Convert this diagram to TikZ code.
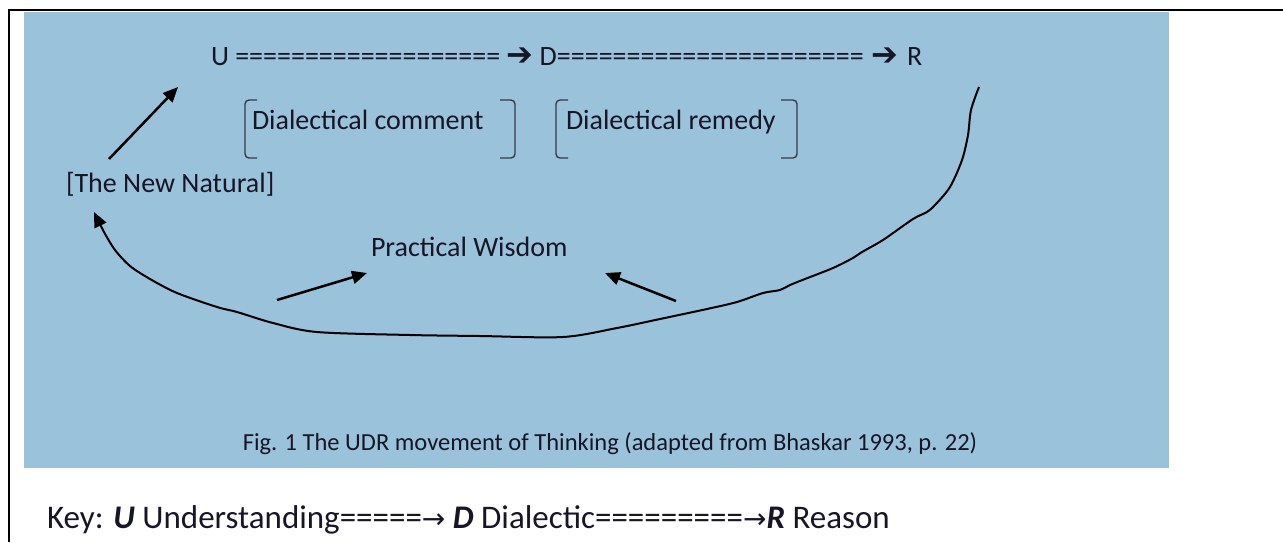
\documentclass[tikz,border=0pt]{standalone}
\usepackage{fontspec}
\setmainfont{Carlito}
\newfontfamily\djv{DejaVu Sans}
\usetikzlibrary{arrows.meta}
\definecolor{bgblue}{RGB}{155,194,219}
\definecolor{ink}{RGB}{22,22,38}
\newcommand{\bigarr}{{\djv\fontsize{32}{30}\selectfont ➔}}
\newcommand{\keyarr}{{\djv\fontsize{28}{30}\selectfont →}}
\begin{document}
\begin{tikzpicture}[x=1pt,y=-1pt,
  lbl/.style={inner sep=0pt, outer sep=0pt, font=\fontsize{28}{34}\selectfont, text=ink},
  brk/.style={draw=ink!85, line width=1.4pt, rounded corners=4pt},
  arr/.style={draw=black, line width=2.5pt, -{Triangle[length=15pt,width=13pt]}},
  hand/.style={draw=black, line width=2pt, -{Triangle[length=15pt,width=13pt]}},
]
\useasboundingbox (0,0) rectangle (1283,542);
\fill[bgblue] (24,12) rectangle (1169,468);
\draw[line width=2pt] (8,10) -- (1283,10);
\draw[line width=2pt] (9,9) -- (9,542);

% top line
\node[lbl, anchor=base west] (top) at (211,65)
  {U =================== \bigarr{} D====================== \hspace{1pt}\bigarr{} \hspace{3pt}R};

% bracketed labels
\node[lbl, anchor=base west] (comment) at (252,129) {Dialectical comment};
\node[lbl, anchor=base west] (remedy) at (566,129) {Dialectical remedy};
\draw[brk] (257,100) -- (245,100) -- (245,158) -- (257,158);
\draw[brk] (500,100) -- (515,100) -- (515,158) -- (500,158);
\draw[brk] (568,100) -- (556,100) -- (556,158) -- (568,158);
\draw[brk] (781,100) -- (797,100) -- (797,158) -- (781,158);

\node[lbl, anchor=base west] (natural) at (66,192) {[The New Natural]};
\node[lbl, anchor=base west] (wisdom) at (371,256) {Practical Wisdom};

% arrows
\coordinate (a1s) at (109,159);
\coordinate (a1e) at (178,87);
\draw[arr] (a1s) -- (a1e);
\coordinate (a2s) at (277,300);
\coordinate (a2e) at (367,273);
\draw[arr] (a2s) -- (a2e);
\coordinate (a3s) at (676,301);
\coordinate (a3e) at (605,273);
\draw[arr] (a3s) -- (a3e);

% hand-drawn loop
\coordinate (cs) at (979,87);
\draw[hand] plot[smooth, tension=0.5] coordinates {
 (979,87) (971,110) (968,135) (962,160) (950,187) (935,205) (927,212) (913,219)
 (883,240) (862,252) (853,258) (833,268) (805,279) (790,285) (780,290) (763,293)
 (737,302) (707,309) (660,319) (617,328) (563,337) (480,336) (410,335) (317,332)
 (273,323) (237,312) (217,307) (177,293) (150,279) (130,266) (115,250) (104,232) (94,212)};

% caption and key
\node[lbl, font=\fontsize{24.5}{30}\selectfont, anchor=base] (caption) at (610,450)
  {Fig. 1 The UDR movement of Thinking (adapted from Bhaskar 1993, p. 22)};
\node[lbl, font=\fontsize{33}{38}\selectfont, anchor=base west] (key) at (47,528)
  {Key: \textbf{\textit{U}} Understanding=====\keyarr{} \textbf{\textit{D}} Dialectic=========\keyarr\textbf{\textit{R}} Reason};
\end{tikzpicture}
\end{document}
